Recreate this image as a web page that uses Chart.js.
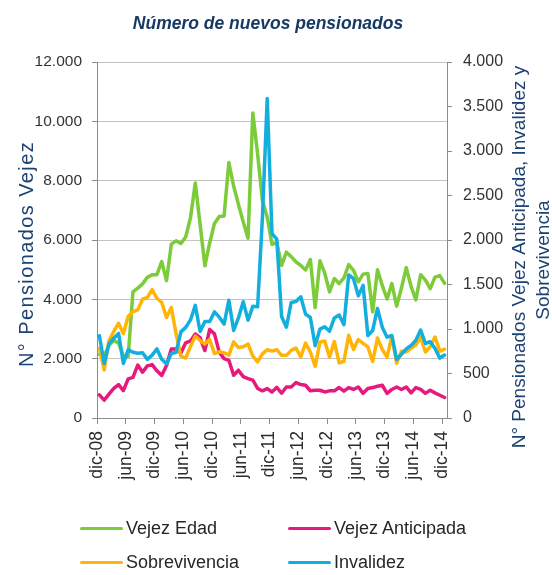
<!DOCTYPE html>
<html>
<head>
<meta charset="utf-8">
<script src="https://cdn.jsdelivr.net/npm/chart.js@4.4.1/dist/chart.umd.min.js"></script>
<style>
  html, body { margin: 0; padding: 0; background: #ffffff; }
  #wrap { position: relative; width: 552px; height: 575px; overflow: hidden; }
  #legend { position: absolute; left: 0; top: 0; width: 552px; height: 575px; pointer-events: none;
            font-family: "Liberation Sans", Arial, sans-serif; font-size: 18px; color: #262626; }
  .item { position: absolute; height: 22px; line-height: 22px; display: flex; align-items: center; white-space: nowrap; }
  .swatch { display: inline-block; width: 43px; height: 3px; border-radius: 1.5px; margin-right: 3px; }
</style>
</head>
<body>
<div id="wrap">
  <canvas id="c" width="552" height="575"></canvas>
  <div id="legend"></div>
</div>
<script>
// ---- data ----
const months = [
  'dic-08',
  'ene-09','feb-09','mar-09','abr-09','may-09','jun-09','jul-09','ago-09','sep-09','oct-09','nov-09','dic-09',
  'ene-10','feb-10','mar-10','abr-10','may-10','jun-10','jul-10','ago-10','sep-10','oct-10','nov-10','dic-10',
  'ene-11','feb-11','mar-11','abr-11','may-11','jun-11','jul-11','ago-11','sep-11','oct-11','nov-11','dic-11',
  'ene-12','feb-12','mar-12','abr-12','may-12','jun-12','jul-12','ago-12','sep-12','oct-12','nov-12','dic-12',
  'ene-13','feb-13','mar-13','abr-13','may-13','jun-13','jul-13','ago-13','sep-13','oct-13','nov-13','dic-13',
  'ene-14','feb-14','mar-14','abr-14','may-14','jun-14','jul-14','ago-14','sep-14','oct-14','nov-14','dic-14'
];
const tickLabels = ['dic-08','jun-09','dic-09','jun-10','dic-10','jun-11','dic-11','jun-12','dic-12','jun-13','dic-13','jun-14','dic-14'];

const vejezEdad = [
  2150, 2100, 2450, 2620, 2520, 2100, 2070, 4250, 4380, 4520, 4740, 4830, 4830,
  5270, 4630, 5860, 5970, 5880, 6100, 6750, 7920, 6530, 5130, 5900, 6560,
  6790, 6810, 8610, 7820, 7200, 6610, 6060, 10280, 8900, 7330, 6770, 5850,
  5920, 5140, 5590, 5440, 5260, 5140, 4990, 5340, 3720, 5300, 4880, 4250,
  4700, 4530, 4720, 5170, 4980, 4590, 4850, 4870, 3580, 5000, 4470, 4010,
  4530, 3770, 4380, 5070, 4440, 3980, 4830, 4650, 4360, 4750, 4800, 4540
];
const vejezAnticipada = [
  260, 200, 268, 333, 375, 307, 440, 456, 595, 515, 585, 600, 530,
  478, 590, 776, 776, 730, 845, 866, 944, 903, 758, 994, 945,
  740, 667, 648, 480, 537, 465, 443, 425, 332, 305, 330, 292,
  345, 278, 348, 349, 398, 376, 368, 305, 312, 312, 293, 305,
  305, 342, 302, 342, 321, 349, 277, 331, 342, 357, 368, 277,
  321, 349, 321, 349, 282, 342, 321, 277, 312, 282, 256, 230
];
const sobrevivencia = [
  785, 540, 870, 972, 1065, 948, 1140, 1195, 1215, 1335, 1354, 1442, 1345,
  1298, 1130, 1242, 944, 696, 674, 804, 920, 870, 832, 882, 724,
  744, 733, 707, 856, 792, 800, 830, 696, 632, 720, 767, 753,
  767, 704, 704, 760, 786, 685, 842, 741, 581, 853, 865, 685,
  858, 620, 638, 929, 770, 882, 839, 798, 635, 898, 770, 685,
  920, 615, 751, 742, 783, 820, 906, 742, 802, 910, 751, 773
];
const invalidez = [
  925, 612, 832, 897, 950, 612, 767, 739, 728, 733, 659, 707, 776,
  659, 608, 724, 739, 968, 1018, 1102, 1266, 972, 1083, 1085, 1192,
  1133, 1055, 1323, 984, 1124, 1306, 1100, 1255, 1250, 2250, 3590, 2070,
  2010, 1140, 1020, 1298, 1309, 1362, 1167, 1129, 811, 999, 1025, 975,
  1124, 1157, 1049, 1608, 1565, 1372, 1490, 927, 984, 1231, 1021, 908,
  927, 655, 716, 777, 814, 874, 988, 837, 857, 782, 673, 707
];
const seriesNames = ['Vejez Edad', 'Vejez Anticipada', 'Sobrevivencia', 'Invalidez'];
const seriesColors = ['#7CCB38', '#E8197D', '#FFB406', '#12AEDD'];

// ---- helpers ----
const fmt = v => String(v).replace(/\B(?=(\d{3})+(?!\d))/g, '.');
const toXY = arr => arr.map((v, i) => ({ x: i, y: v }));
const FONT = '"Liberation Sans", Arial, sans-serif';
const axisGray = '#8C8C8C';

const axisTitles = {
  id: 'axisTitles',
  afterDraw(chart) {
    const ctx = chart.ctx;
    ctx.save();
    ctx.fillStyle = '#1B4272';
    ctx.textAlign = 'center';
    ctx.textBaseline = 'alphabetic';
    // left
    ctx.save();
    ctx.font = '20px ' + FONT;
    try { ctx.letterSpacing = '1.4px'; } catch (e) {}
    ctx.translate(32.5, 254);
    ctx.rotate(-Math.PI / 2);
    ctx.fillText('N° Pensionados Vejez', 0, 0);
    ctx.restore();
    // right
    ctx.save();
    ctx.font = '19px ' + FONT;
    ctx.translate(525, 257);
    ctx.rotate(-Math.PI / 2);
    ctx.fillText('N° Pensionados Vejez Anticipada, Invalidez y', 0, 0);
    ctx.restore();
    ctx.save();
    ctx.font = '19px ' + FONT;
    ctx.translate(548.6, 260);
    ctx.rotate(-Math.PI / 2);
    ctx.fillText('Sobrevivencia', 0, 0);
    ctx.restore();
    ctx.restore();
  }
};

const seriesData = [vejezEdad, vejezAnticipada, sobrevivencia, invalidez];
const axisIds = ['y', 'y1', 'y1', 'y1'];
const orders = [4, 3, 2, 1];

const chart = new Chart(document.getElementById('c'), {
  type: 'line',
  data: {
    datasets: seriesData.map((arr, k) => ({
      label: seriesNames[k],
      data: toXY(arr),
      yAxisID: axisIds[k],
      borderColor: seriesColors[k],
      backgroundColor: seriesColors[k],
      borderWidth: 3.5,
      pointRadius: 0,
      tension: 0,
      fill: false,
      order: orders[k],
      borderJoinStyle: 'round',
      borderCapStyle: 'round'
    }))
  },
  options: {
    responsive: false,
    animation: false,
    events: [],
    layout: { padding: { left: 0, right: 16, top: 0, bottom: 77 } },
    plugins: {
      legend: { display: false },
      tooltip: { enabled: false },
      title: {
        display: true,
        text: 'Número de nuevos pensionados',
        color: '#173A64',
        font: { family: FONT, size: 17.5, weight: 'bold', style: 'italic', lineHeight: 1.2 },
        padding: { top: 13.5, bottom: 27.5 }
      }
    },
    scales: {
      x: {
        type: 'linear',
        min: -0.5,
        max: months.length - 0.5,
        afterBuildTicks: s => { s.ticks = tickLabels.map(l => ({ value: months.indexOf(l) - 0.5 })); },
        afterFit: s => { s.height = 80; },
        ticks: {
          autoSkip: false,
          minRotation: 90,
          maxRotation: 90,
          padding: 7,
          color: '#2b2b2b',
          font: { family: FONT, size: 17.5 },
          callback: v => months[Math.round(v + 0.5)]
        },
        grid: { drawOnChartArea: false, drawTicks: true, tickLength: 6, color: axisGray, tickColor: axisGray },
        border: { display: true, color: axisGray, width: 1 }
      },
      y: {
        position: 'left',
        min: 0,
        max: 12000,
        afterFit: s => { s.width = 97; },
        ticks: {
          stepSize: 2000,
          padding: 10,
          color: '#333333',
          font: { family: FONT, size: 15.5 },
          callback: v => fmt(v)
        },
        grid: { color: '#C4C4C4', tickLength: 5, tickColor: axisGray, lineWidth: 1 },
        border: { display: true, color: axisGray, width: 1 }
      },
      y1: {
        position: 'right',
        min: 0,
        max: 4000,
        afterFit: s => { s.width = 89; },
        ticks: {
          stepSize: 500,
          padding: 11,
          color: '#333333',
          font: { family: FONT, size: 16 },
          callback: v => fmt(v)
        },
        grid: { drawOnChartArea: false, tickLength: 5, color: axisGray, tickColor: axisGray },
        border: { display: true, color: axisGray, width: 1 }
      }
    }
  },
  plugins: [axisTitles]
});

// ---- HTML legend (2 x 2 grid) built from the chart's datasets ----
const legendPos = [
  { sx: 80, tx: 126, cy: 528 },
  { sx: 288, tx: 334, cy: 528 },
  { sx: 80, tx: 126, cy: 562 },
  { sx: 288, tx: 334, cy: 562 }
];
const legendEl = document.getElementById('legend');
chart.data.datasets.forEach((ds, k) => {
  const p = legendPos[k];
  const item = document.createElement('div');
  item.className = 'item';
  item.style.left = p.sx + 'px';
  item.style.top = (p.cy - 11) + 'px';
  const sw = document.createElement('span');
  sw.className = 'swatch';
  sw.style.background = ds.borderColor;
  const tx = document.createElement('span');
  tx.textContent = ds.label;
  item.appendChild(sw);
  item.appendChild(tx);
  legendEl.appendChild(item);
});
</script>
</body>
</html>
